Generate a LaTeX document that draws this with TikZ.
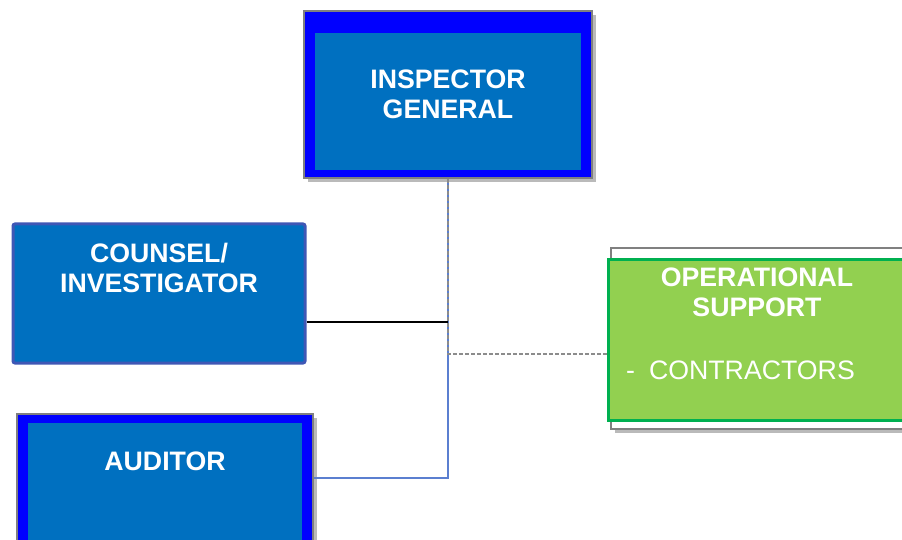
\documentclass[tikz,border=0pt]{standalone}
\usepackage{fontspec}
\setmainfont{Liberation Sans}
\usetikzlibrary{calc, positioning, shadows}

\definecolor{ocblue}{HTML}{0070C0}
\definecolor{framblue}{HTML}{0000FF}
\definecolor{rimgray}{HTML}{808080}
\definecolor{counselrim}{HTML}{3F57B5}
\definecolor{linkblue}{HTML}{5B7FD0}
\definecolor{dashgray}{HTML}{8C8C8C}
\definecolor{opsgreen}{HTML}{92D050}
\definecolor{opsrim}{HTML}{00B050}

\begin{document}
\begin{tikzpicture}[x=1pt, y=-1pt,
    headtext/.style={text=white, align=center, inner sep=0pt,
        font=\bfseries\fontsize{26.7}{30}\selectfont},
    itemtext/.style={text=white, inner sep=0pt, font=\fontsize{26.7}{30}\selectfont},
    softshadow/.style={drop shadow={shadow xshift=4pt, shadow yshift=-4pt,
        opacity=0.45, fill=black!60}},
    % framed box: blue frame, ocblue fill inset by #1 (left/right), #2 (top), #3 (bottom)
    framedbox/.style n args={3}{rectangle, fill=framblue, draw=rimgray, line width=2pt,
        softshadow,
        path picture={\fill[ocblue]
            ($(path picture bounding box.south west)+(#1,#3)$) rectangle
            ($(path picture bounding box.north east)+(-#1,-#2)$);}},
    bluelink/.style={draw=linkblue, line width=1.3pt},
    dashlink/.style={draw=dashgray, line width=1.5pt, dash pattern=on 4pt off 2pt},
    blacklink/.style={draw=black, line width=1.4pt}]

    \clip (0,0) rectangle (902,540);

    % Boxes
    \node[framedbox={11pt}{22pt}{8pt}, minimum width=288pt, minimum height=167pt]
        (ig) at (448,94.5) {};
    \node[headtext] at (ig.center) {INSPECTOR\\GENERAL};

    \node[rectangle, rounded corners=2pt, fill=ocblue, draw=counselrim, line width=3pt,
        minimum width=292pt, minimum height=139pt] (counsel) at (159,293.5) {};
    \node[headtext, below=20.5pt of counsel.north] {COUNSEL/\\INVESTIGATOR};

    % runs off the bottom edge of the page
    \node[framedbox={11pt}{9pt}{9pt}, minimum width=296pt, minimum height=180pt]
        (auditor) at (165,504) {};
    \node[headtext, below=38.5pt of auditor.north] {AUDITOR};

    % Operational support: white backing card with green box on top
    \node[rectangle, fill=white, draw=rimgray, line width=1.5pt, softshadow,
        minimum width=298pt, minimum height=181pt] (opsback) at (760,338.5) {};
    \node[rectangle, fill=opsgreen, draw=opsrim, line width=3pt,
        minimum width=298pt, minimum height=161pt] (ops) at (757,339.5) {};
    \node[headtext, below=10.5pt of ops.north] {OPERATIONAL\\SUPPORT};
    \node[itemtext, anchor=base west] at (626,379.5) {-\hspace{14pt}CONTRACTORS};

    % Connectors
    \coordinate (counseljoin) at (448,322);
    \coordinate (opsjoin) at (448,354);
    \coordinate (auditjoin) at (448,478);
    \draw[bluelink] (ig.south) -- (auditjoin) -- (auditjoin -| auditor.east);
    \draw[blacklink] (counseljoin -| counsel.east) -- (counseljoin);
    \draw[dashlink] (ig.south) -- (opsjoin) -- (opsjoin -| ops.west);

\end{tikzpicture}
\end{document}
